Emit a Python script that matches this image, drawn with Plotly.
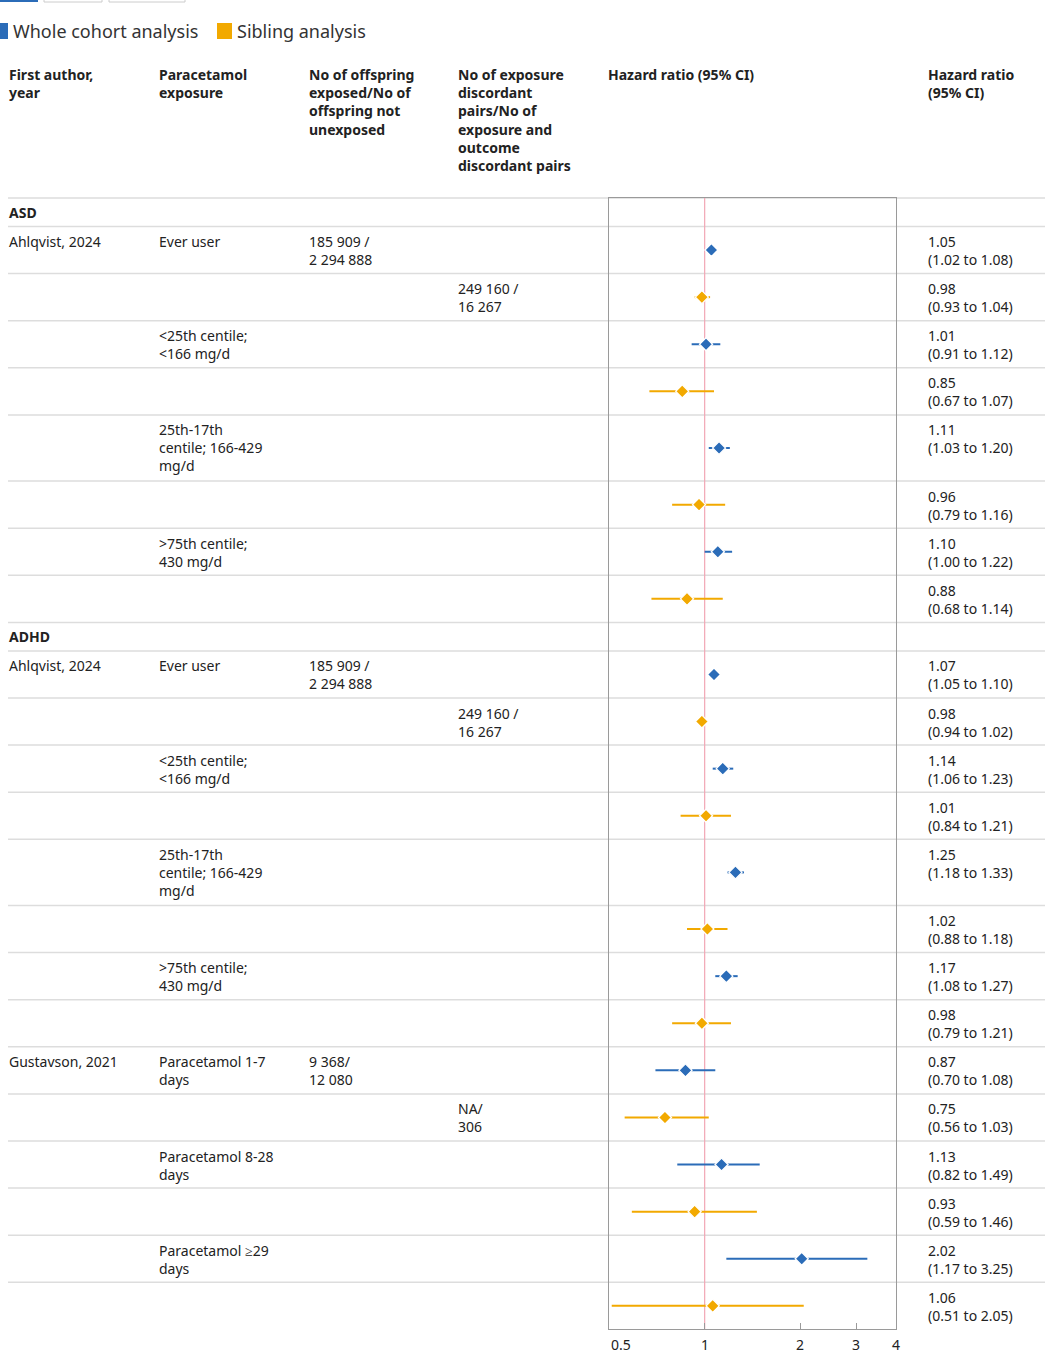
import math
import plotly.graph_objects as go

W, H = 1050, 1361

# ---------------- data ----------------
section_names = ["ASD", "ADHD"]
section_sizes = [8, 14]

authors = ["Ahlqvist, 2024", "", "", "", "", "", "", "",
           "Ahlqvist, 2024", "", "", "", "", "", "", "",
           "Gustavson, 2021", "", "", "", "", ""]
exposures = ["Ever user", "", "&lt;25th centile;<br>&lt;166 mg/d", "",
             "25th-17th<br>centile; 166-429<br>mg/d", "", "&gt;75th centile;<br>430 mg/d", "",
             "Ever user", "", "&lt;25th centile;<br>&lt;166 mg/d", "",
             "25th-17th<br>centile; 166-429<br>mg/d", "", "&gt;75th centile;<br>430 mg/d", "",
             "Paracetamol 1-7<br>days", "", "Paracetamol 8-28<br>days", "",
             "Paracetamol ≥29<br>days", ""]
n_exposed = ["185 909 /<br>2 294 888", "", "", "", "", "", "", "",
             "185 909 /<br>2 294 888", "", "", "", "", "", "", "",
             "9 368/<br>12 080", "", "", "", "", ""]
n_pairs = ["", "249 160 /<br>16 267", "", "", "", "", "", "",
           "", "249 160 /<br>16 267", "", "", "", "", "", "",
           "", "NA/<br>306", "", "", "", ""]
analysis = ["Whole", "Sibling"] * 11
hr = [1.05, 0.98, 1.01, 0.85, 1.11, 0.96, 1.10, 0.88,
      1.07, 0.98, 1.14, 1.01, 1.25, 1.02, 1.17, 0.98,
      0.87, 0.75, 1.13, 0.93, 2.02, 1.06]
ci_lo = [1.02, 0.93, 0.91, 0.67, 1.03, 0.79, 1.00, 0.68,
         1.05, 0.94, 1.06, 0.84, 1.18, 0.88, 1.08, 0.79,
         0.70, 0.56, 0.82, 0.59, 1.17, 0.51]
ci_hi = [1.08, 1.04, 1.12, 1.07, 1.20, 1.16, 1.22, 1.14,
         1.10, 1.02, 1.23, 1.21, 1.33, 1.18, 1.27, 1.21,
         1.08, 1.03, 1.49, 1.46, 3.25, 2.05]

headers = ["First author,<br>year", "Paracetamol<br>exposure",
           "No of offspring<br>exposed/No of<br>offspring not<br>unexposed",
           "No of exposure<br>discordant<br>pairs/No of<br>exposure and<br>outcome<br>discordant pairs",
           "Hazard ratio (95% CI)", "Hazard ratio<br>(95% CI)"]
tick_vals = [0.5, 1, 2, 3, 4]
tick_text = ["0.5", "1", "2", "3", "4"]
legend_names = ["Whole cohort analysis", "Sibling analysis"]

# ---------------- style / layout ----------------
BLUE = "#2b6cb8"
ORANGE = "#f2a900"
TEXT = "#222222"
SEP = "#dddddd"
BOX = "#9a9a9a"
FONT = "Noto Sans"

col_x = [7, 157, 307, 456]
hr_col_x = 926
plot_x0, plot_x1 = 609, 896
top_y = 198
sec_h = 28.5
row_h2 = 47.1
line_h = 19.1
text_pad = 3.5


def py(p):
    return 1 - p / H


def nlines(s):
    return s.count("<br>") + 1 if s else 0


annotations = []
shapes = []


def add_text(x, ytop, text, bold=False, size=14, anchor="top", color=TEXT):
    if bold:
        text = "<b>" + text.replace("<br>", "</b><br><b>") + "</b>"
    annotations.append(dict(x=x / W, y=py(ytop), xref="paper", yref="paper",
                            text=text, showarrow=False, xanchor="left",
                            yanchor=anchor, align="left",
                            font=dict(family=FONT, size=size, color=color)))


def hline(y, x0=8, x1=1045):
    shapes.append(dict(type="line", xref="paper", yref="paper",
                       x0=x0 / W, x1=x1 / W, y0=py(y), y1=py(y),
                       line=dict(color=SEP, width=1.5), layer="below"))


# headers
for i, h in enumerate(headers):
    x = col_x[i] if i < 4 else (606 if i == 4 else hr_col_x)
    add_text(x, 63, h, bold=True)
hline(top_y)

# rows
row_centers = []
y = top_y
idx = 0
for s, name in enumerate(section_names):
    add_text(col_x[0], y + sec_h / 2, name, bold=True, anchor="middle")
    y += sec_h
    hline(y)
    for k in range(section_sizes[s]):
        texts = [authors[idx], exposures[idx], n_exposed[idx], n_pairs[idx]]
        nl = max(max(nlines(t) for t in texts), 2)
        h = row_h2 + (nl - 2) * line_h
        for c, t in enumerate(texts):
            if t:
                add_text(col_x[c], y + text_pad, t)
        add_text(hr_col_x, y + text_pad,
                 f"{hr[idx]:.2f}<br>({ci_lo[idx]:.2f} to {ci_hi[idx]:.2f})")
        row_centers.append(y + h / 2)
        y += h
        idx += 1
        if not (s == len(section_names) - 1 and k == section_sizes[s] - 1):
            hline(y)
bottom_y = y

# traces
fig = go.Figure()
for name, color in [("Whole", BLUE), ("Sibling", ORANGE)]:
    sel = [i for i, a in enumerate(analysis) if a == name]
    fig.add_trace(go.Scatter(
        x=[hr[i] for i in sel],
        y=[row_centers[i] for i in sel],
        mode="markers",
        marker=dict(symbol="diamond", size=10, color=color,
                    line=dict(color="white", width=1.3)),
        error_x=dict(type="data", symmetric=False,
                     array=[ci_hi[i] - hr[i] for i in sel],
                     arrayminus=[hr[i] - ci_lo[i] for i in sel],
                     color=color, thickness=2, width=0),
        showlegend=False, hoverinfo="skip"))

# reference line at 1
shapes.append(dict(type="line", xref="x", yref="paper", x0=1, x1=1,
                   y0=py(bottom_y), y1=py(top_y),
                   line=dict(color="#f2a7b4", width=1.2), layer="below"))

# tick labels (log axis: annotation positions in log10 units)
for v, t in zip(tick_vals, tick_text):
    annotations.append(dict(x=math.log10(v), y=py(bottom_y + 4), xref="x", yref="paper",
                            text=t, showarrow=False,
                            xanchor="left" if v == tick_vals[0] else "center",
                            yanchor="top",
                            font=dict(family=FONT, size=14, color=TEXT)))

# legend (custom)
leg_sq = [(-5, 8), (217, 232)]
leg_tx = [11, 235]
for (a, b), tx, name, color in zip(leg_sq, leg_tx, legend_names, [BLUE, ORANGE]):
    shapes.append(dict(type="rect", xref="paper", yref="paper",
                       x0=a / W, x1=b / W, y0=py(39), y1=py(23),
                       fillcolor=color, line=dict(width=0)))
    add_text(tx, 31, name, size=18, anchor="middle", color="#333333")

# partially visible buttons at top
shapes.append(dict(type="rect", xref="paper", yref="paper",
                   x0=0, x1=38 / W, y0=py(2), y1=py(-20),
                   fillcolor=BLUE, line=dict(width=0)))
for a, b in [(44, 102), (109, 185)]:
    shapes.append(dict(type="rect", xref="paper", yref="paper",
                       x0=a / W, x1=b / W, y0=py(2), y1=py(-20),
                       fillcolor="white", line=dict(color="#cccccc", width=1)))

fig.update_layout(
    width=W, height=H,
    margin=dict(l=0, r=0, t=0, b=0),
    paper_bgcolor="white", plot_bgcolor="rgba(0,0,0,0)",
    annotations=annotations, shapes=shapes,
    xaxis=dict(type="log", range=[math.log10(0.5), math.log10(4)],
               domain=[plot_x0 / W, plot_x1 / W],
               showgrid=False, zeroline=False,
               showline=True, mirror=True, linecolor=BOX, linewidth=1,
               ticks="inside", ticklen=6, tickcolor=BOX, tickwidth=1,
               tickvals=tick_vals, showticklabels=False),
    yaxis=dict(range=[bottom_y, top_y],
               domain=[1 - bottom_y / H, 1 - top_y / H],
               showgrid=False, zeroline=False,
               showline=True, mirror=True, linecolor=BOX, linewidth=1,
               showticklabels=False, ticks=""),
)

fig.write_html("out.html",
               config={"displayModeBar": False},
               post_script="document.body.style.margin='0';document.body.style.overflow='hidden';")
